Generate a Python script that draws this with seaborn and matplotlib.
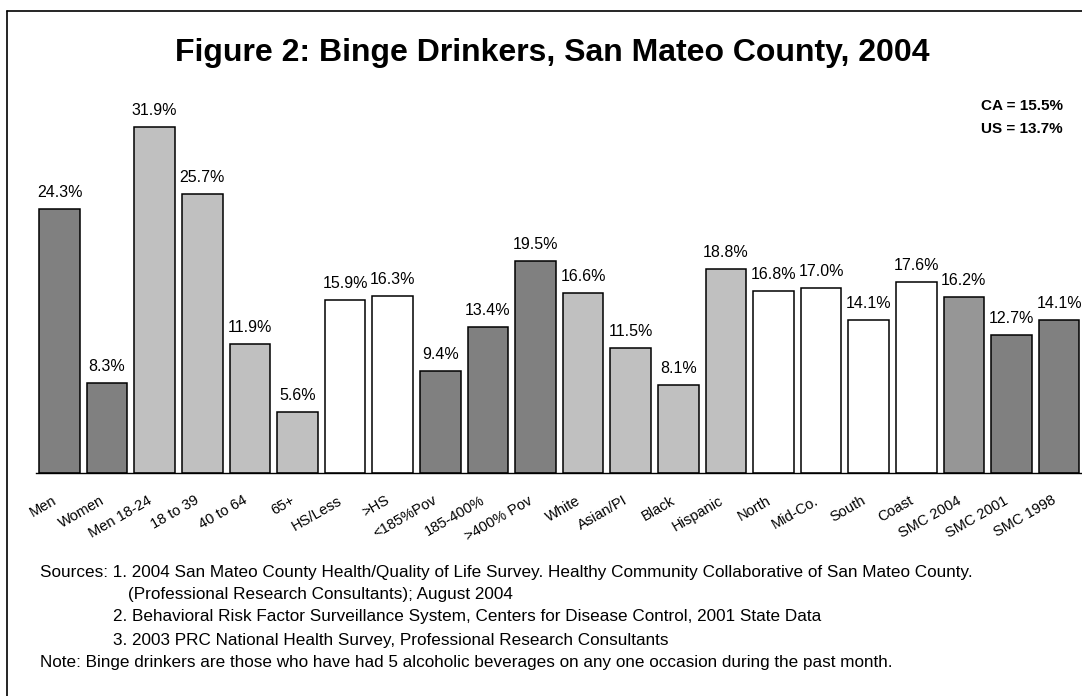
import matplotlib
matplotlib.use("Agg")
import matplotlib.pyplot as plt
import matplotlib.transforms as mtransforms
from matplotlib.lines import Line2D
import seaborn as sns
import pandas as pd

# ---- data -------------------------------------------------------------
categories = ["Men", "Women", "Men 18-24", "18 to 39", "40 to 64", "65+",
              "HS/Less", ">HS", "<185%Pov", "185-400%", ">400% Pov",
              "White", "Asian/PI", "Black", "Hispanic",
              "North", "Mid-Co.", "South", "Coast",
              "SMC 2004", "SMC 2001", "SMC 1998"]
percent = [24.3, 8.3, 31.9, 25.7, 11.9, 5.6,
           15.9, 16.3, 9.4, 13.4, 19.5,
           16.6, 11.5, 8.1, 18.8,
           16.8, 17.0, 14.1, 17.6,
           16.2, 12.7, 14.1]
bar_colors = ["#808080", "#808080", "#C0C0C0", "#C0C0C0", "#C0C0C0", "#C0C0C0",
              "#FFFFFF", "#FFFFFF", "#808080", "#808080", "#808080",
              "#C0C0C0", "#C0C0C0", "#C0C0C0", "#C0C0C0",
              "#FFFFFF", "#FFFFFF", "#FFFFFF", "#FFFFFF",
              "#969696", "#808080", "#808080"]
title = "Figure 2: Binge Drinkers, San Mateo County, 2004"
comparison = ["CA = 15.5%", "US = 13.7%"]
source_lines = [
    "Sources: 1. 2004 San Mateo County Health/Quality of Life Survey. Healthy Community Collaborative of San Mateo County.",
    "(Professional Research Consultants); August 2004",
    "2. Behavioral Risk Factor Surveillance System, Centers for Disease Control, 2001 State Data",
    "3. 2003 PRC National Health Survey, Professional Research Consultants",
    "Note: Binge drinkers are those who have had 5 alcoholic beverages on any one occasion during the past month.",
]

df = pd.DataFrame({"group": categories, "pct": percent})

# ---- style ------------------------------------------------------------
sns.set_style("white")
plt.rcParams["font.family"] = ["Liberation Sans", "DejaVu Sans"]
plt.rcParams["text.color"] = "black"
plt.rcParams["xtick.color"] = "black"
plt.rcParams["xtick.labelcolor"] = "black"

W, H = 1082, 696
fig = plt.figure(figsize=(W / 100, H / 100), dpi=100)
fig.patch.set_facecolor("white")

n = len(categories)
step = 47.6
left_px = 35.7
base_px = 473
px_per_unit = 10.86
ymax = 35
ax = fig.add_axes([left_px / W, (H - base_px) / H,
                   n * step / W, ymax * px_per_unit / H])

sns.barplot(data=df, x="group", y="pct", hue="group",
            palette=dict(zip(categories, bar_colors)), legend=False,
            edgecolor="black", linewidth=1.1, width=0.85, saturation=1,
            ax=ax)

ax.set_xlim(-0.5, n - 0.5)
ax.set_ylim(0, ymax)
ax.set_xlabel("")
ax.set_ylabel("")
ax.set_yticks([])
for side in ("left", "top", "right"):
    ax.spines[side].set_visible(False)
ax.spines["bottom"].set_color("black")
ax.spines["bottom"].set_linewidth(1.0)

# category labels on major ticks (no marks), boundary marks on minor ticks
ax.set_xticks(range(n))
ax.set_xticklabels(categories, rotation=30, ha="right", va="center",
                   rotation_mode="anchor", fontsize=10.5, color="black")
ax.tick_params(axis="x", which="major", length=0, pad=19)
ax.set_xticks([i - 0.5 for i in range(n + 1)], minor=True)
ax.tick_params(axis="x", which="minor", length=3.6, width=1.0,
               color="black", direction="out")
shift = mtransforms.ScaledTranslation(-4 / 100, 0, fig.dpi_scale_trans)
for lbl in ax.get_xticklabels():
    lbl.set_transform(lbl.get_transform() + shift)

# value labels
for i, v in enumerate(percent):
    ax.annotate(f"{v:.1f}%", (i, v), xytext=(0, 6.5),
                textcoords="offset points", ha="center", va="bottom",
                fontsize=11.5, color="black")

# title and comparison figures
fig.text(552 / W, 1 - 53 / H, title, ha="center", va="center",
         fontsize=23, fontweight="bold", color="black")
fig.text(1063 / W, 1 - 106 / H, comparison[0], ha="right", va="center",
         fontsize=11, fontweight="bold", color="black")
fig.text(1063 / W, 1 - 129 / H, comparison[1], ha="right", va="center",
         fontsize=11, fontweight="bold", color="black")

# sources block
src_x = [40, 128, 113, 113, 40]
src_y = [573, 595, 617, 640, 662]
for x, y, line in zip(src_x, src_y, source_lines):
    fig.text(x / W, 1 - y / H, line, ha="left", va="center", fontsize=12.3,
             color="black")

# outer frame (top and left edges)
fig.add_artist(Line2D([7 / W, 1.0], [1 - 11 / H, 1 - 11 / H],
                      transform=fig.transFigure, color="black", lw=1.2))
fig.add_artist(Line2D([7 / W, 7 / W], [1 - 11 / H, 0.0],
                      transform=fig.transFigure, color="black", lw=1.2))

fig.savefig("out.png", dpi=100)
